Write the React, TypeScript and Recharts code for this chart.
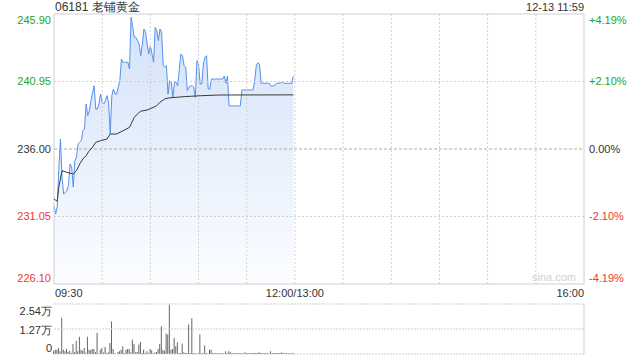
import { ComposedChart, BarChart, Area, Line, Bar, XAxis, YAxis, ReferenceLine, ReferenceArea } from "recharts";

// minute-by-minute last price, 09:30 .. 11:59
const prices = [
  231.84, 231.23, 231.75, 234.5, 236.73, 233.95, 232.7, 232.8, 232.95, 233.31,
  234.9, 234.68, 233.21, 235.14, 235.42, 236.37, 236.5, 236.61, 237.35, 237.47,
  239.3, 238.44, 238.81, 239.54, 240.1, 240.64, 238.93, 238.93, 239.3, 240.03,
  239.43, 239.3, 239.54, 239.91, 239.43, 237.1, 239.91, 240.4, 240.03, 240.03,
  240.53, 241.01, 242.6, 242.36, 242.36, 242.36, 242.36, 241.87, 245.66, 244.95,
  244.21, 244.19, 243.94, 243.7, 242.84, 243.7, 244.8, 244.56, 243.7, 242.97,
  243.58, 242.97, 242.36, 244.92, 244.68, 243.94, 244.8, 244.56, 242.11, 241.99,
  242.11, 240.03, 241.01, 240.89, 239.79, 240.89, 240.89, 240.64, 241.8, 242.97,
  242.84, 242.11, 241.99, 240.28, 240.53, 240.62, 240.64, 240.53, 239.79, 242.48,
  242.23, 240.77, 240.77, 242.23, 242.72, 242.84, 240.4, 240.4, 241.13, 241.13,
  241.13, 241.13, 241.13, 241.13, 241.13, 241.13, 241.35, 240.82, 241.35, 239.16,
  239.16, 239.16, 239.16, 239.16, 239.16, 239.16, 239.16, 240.33, 240.33, 240.33,
  240.33, 240.33, 240.33, 240.33, 240.33, 241.06, 242.16, 242.33, 242.16, 240.82,
  240.82, 240.82, 240.82, 240.82, 240.82, 240.62, 240.62, 240.62, 240.77, 240.82,
  240.82, 240.82, 240.94, 240.82, 240.82, 240.82, 240.82, 240.82, 240.82, 241.35,
];

// average price line, read at these minutes
const avgTimes = [0, 1, 2, 3, 5, 8, 12, 14, 16, 18, 20, 22, 24, 26, 29, 33, 35, 39, 43, 47, 50, 52, 54, 58, 61, 64, 66, 69, 71, 81, 92, 103, 149];
const avgValues = [
  232.33, 232.25, 232.17, 233.21, 234.41, 234.29, 234.17, 234.41, 234.9, 235.27, 235.51,
  235.88, 236.13, 236.49, 236.61, 236.73, 237.1, 237.1, 237.34, 237.59, 238.32, 238.57,
  238.77, 238.86, 239.01, 239.18, 239.43, 239.67, 239.74, 239.84, 239.91, 239.96, 239.97,
];

const volumes = [
  1700, 2200, 2200, 3100, 1400, 18400, 2200, 1400, 2600, 1000,
  1700, 500, 5100, 850, 6650, 1400, 8700, 2200, 1700, 3100,
  600, 8700, 2200, 1900, 2600, 2600, 850, 10700, 200, 2200,
  3100, 700, 3600, 500, 850, 5600, 16500, 2600, 500, 0,
  1000, 1400, 2200, 3900, 500, 2200, 2600, 2600, 850, 7300,
  5100, 850, 1000, 4800, 6100, 500, 2200, 500, 1400, 500,
  2600, 1900, 500, 800, 1000, 2600, 5100, 14150, 2200, 1700,
  10400, 9900, 25200, 2200, 2600, 8200, 3900, 6000, 500, 500,
  5300, 850, 500, 500, 15000, 500, 18100, 500, 500, 100,
  500, 9900, 500, 500, 4300, 500, 100, 2200, 2200, 500,
  500, 500, 500, 500, 500, 500, 400, 1400, 500, 1400,
  850, 500, 500, 400, 500, 500, 500, 500, 500, 850,
  500, 500, 400, 500, 500, 500, 500, 500, 850, 500,
  500, 500, 500, 500, 400, 1400, 500, 500, 500, 500,
  500, 500, 850, 500, 500, 500, 500, 400, 500, 500,
];

const priceTicks = [245.9, 240.95, 236.0, 231.05, 226.1];
const pctLabels = ["+4.19%", "+2.10%", "0.00%", "-2.10%", "-4.19%"];
const timeTicks = [0, 150, 330];
const timeLabels = ["09:30", "12:00/13:00", "16:00"];
const gridTimes = [30, 60, 90, 120, 150, 180, 210, 240, 270, 300];
const volTicks = [25400, 12700, 0];
const volLabels = ["2.54万", "1.27万", "0"];

const PREV_CLOSE = 236.0;
const GREEN = "#1ea51e";
const RED = "#f03535";

const data = prices.map((p, i) => {
  const k = avgTimes.indexOf(i);
  return { t: i, price: p, avg: k >= 0 ? avgValues[k] : null, vol: volumes[i] };
});

const PriceTick = (props: any) => {
  const { y, payload } = props;
  const i = priceTicks.indexOf(payload.value);
  const off = i === 0 ? 6 : i === priceTicks.length - 1 ? -6 : 0;
  const color = payload.value > PREV_CLOSE ? GREEN : payload.value < PREV_CLOSE ? RED : "#333";
  return (
    <g>
      <text x={51} y={y + off} dy="0.35em" textAnchor="end" fontSize={11} fill={color}>
        {payload.value.toFixed(2)}
      </text>
      <text x={589} y={y + off} dy="0.35em" textAnchor="start" fontSize={11} fill={color}>
        {pctLabels[i]}
      </text>
    </g>
  );
};

const TimeTick = (props: any) => {
  const { x, payload } = props;
  const i = timeTicks.indexOf(payload.value);
  const anchor = i === 0 ? "start" : i === timeTicks.length - 1 ? "end" : "middle";
  return (
    <text x={x + (i === 0 ? 1 : 0)} y={297} textAnchor={anchor} fontSize={11} fill="#333">
      {timeLabels[i]}
    </text>
  );
};

const VolTick = (props: any) => {
  const { y, payload } = props;
  const i = volTicks.indexOf(payload.value);
  const off = i === 0 ? 7 : i === volTicks.length - 1 ? -6 : 1;
  return (
    <text x={52} y={y + off} dy="0.35em" textAnchor="end" fontSize={11} fill="#333">
      {volLabels[i]}
    </text>
  );
};

export default function App() {
  return (
    <div style={{ position: "absolute", left: 0, top: 0, width: 640, height: 360, background: "#fff", fontFamily: "'Liberation Sans', Arial, sans-serif" }}>
      <div style={{ position: "absolute", left: 55, top: 0, fontSize: 12, color: "#333", lineHeight: "15px" }}>06181 老铺黄金</div>
      <div style={{ position: "absolute", right: 56, top: 0, fontSize: 11, color: "#333", lineHeight: "15px" }}>12-13 11:59</div>

      <div style={{ position: "absolute", left: 0, top: 0 }}>
        <ComposedChart width={640} height={300} data={data} margin={{ top: 14, right: 56, left: 0, bottom: 0 }}>
          <defs>
            <linearGradient id="pg" x1="0" y1="0" x2="0" y2="1">
              <stop offset="0%" stopColor="#d3e2f9" />
              <stop offset="100%" stopColor="#fcfdff" />
            </linearGradient>
          </defs>
          <XAxis dataKey="t" type="number" domain={[0, 330]} ticks={timeTicks} interval={0} height={16} axisLine={false} tickLine={false} tick={<TimeTick />} />
          <YAxis type="number" domain={[226.1, 245.9]} ticks={priceTicks} interval={0} width={54} axisLine={false} tickLine={false} tick={<PriceTick />} />
          {gridTimes.map((g) => (
            <ReferenceLine key={g} x={g} stroke="#d0d0d0" strokeDasharray="2 2" />
          ))}
          <ReferenceLine y={240.95} stroke="#d0d0d0" strokeDasharray="2 2" />
          <ReferenceLine y={231.05} stroke="#d0d0d0" strokeDasharray="2 2" />
          <ReferenceLine y={236.0} stroke="#aaa" strokeDasharray="3 2" />
          <Area type="linear" dataKey="price" stroke="#5590ec" strokeWidth={1} fill="url(#pg)" fillOpacity={1} dot={false} activeDot={false} isAnimationActive={false} />
          <Line type="linear" dataKey="avg" stroke="#3a3a3a" strokeWidth={1} dot={false} activeDot={false} connectNulls isAnimationActive={false} />
          <ReferenceArea x1={0} x2={330} y1={226.1} y2={245.9} fill="none" stroke="#cfcfcf" strokeWidth={1} />
        </ComposedChart>
      </div>

      <div style={{ position: "absolute", left: 532, top: 271, fontSize: 11, color: "#cfcfcf", lineHeight: "13px" }}>sina.com</div>

      <div style={{ position: "absolute", left: 0, top: 296 }}>
        <BarChart width={640} height={64} data={data} margin={{ top: 8, right: 56, left: 0, bottom: 6 }}>
          <XAxis dataKey="t" type="number" domain={[0, 330]} hide />
          <YAxis type="number" domain={[0, 25400]} ticks={volTicks} interval={0} width={54} axisLine={false} tickLine={false} tick={<VolTick />} />
          {volTicks.map((v) => (
            <ReferenceLine key={v} y={v} stroke="#cfcfcf" strokeDasharray="2 1" />
          ))}
          <ReferenceLine x={330} stroke="#cfcfcf" />
          <Bar dataKey="vol" fill="#666" barSize={1} isAnimationActive={false} />
        </BarChart>
      </div>
    </div>
  );
}
